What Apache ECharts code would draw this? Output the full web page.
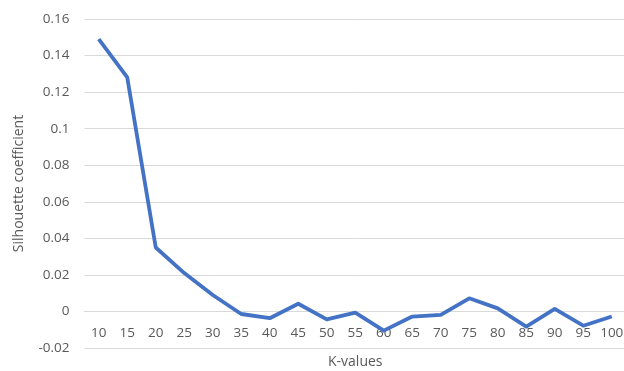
<!DOCTYPE html>
<html>
<head>
<meta charset="utf-8">
<script src="https://cdn.jsdelivr.net/npm/echarts@6/dist/echarts.min.js"></script>
<style>
  html, body { margin: 0; padding: 0; background: #fff; }
  #chart { width: 624px; height: 371px; }
</style>
</head>
<body>
<div id="chart"></div>
<script>
// K values on the x axis
const kValues = ['10', '15', '20', '25', '30', '35', '40', '45', '50', '55',
  '60', '65', '70', '75', '80', '85', '90', '95', '100']
// silhouette coefficient per K
const silhouette = [0.149, 0.128, 0.035, 0.021, 0.009, -0.0014, -0.0037, 0.0042, -0.0043, -0.0006,
  -0.0105, -0.0028, -0.0019, 0.0072, 0.0017, -0.0083, 0.0014, -0.0078, -0.0028]

const textColor = '#595959'
const font = 'Open Sans'

const option = {
  backgroundColor: '#fff',
  animation: false,
  grid: { left: 84.5, right: -2, top: 19, bottom: 23, outerBoundsMode: 'none', containLabel: false },
  xAxis: {
    type: 'category',
    data: kValues,
    boundaryGap: true,
    position: 'bottom',
    offset: -36.5, // axis sits on the zero line, like the original
    name: 'K-values',
    nameLocation: 'middle',
    nameGap: 44,
    nameTextStyle: { color: textColor, fontFamily: font, fontSize: 14 },
    axisLine: { onZero: false, lineStyle: { color: '#d9d9d9', width: 1 } },
    axisTick: { show: false },
    axisLabel: { color: textColor, fontFamily: font, fontSize: 13.5, margin: 15, interval: 0, hideOverlap: false }
  },
  yAxis: {
    type: 'value',
    min: -0.02,
    max: 0.16,
    interval: 0.02,
    name: 'Silhouette coefficient',
    nameLocation: 'middle',
    nameGap: 58,
    nameTextStyle: { color: textColor, fontFamily: font, fontSize: 14 },
    axisLine: { show: false },
    axisTick: { show: false },
    axisLabel: { color: textColor, fontFamily: font, fontSize: 13.5, margin: 15 },
    splitLine: { lineStyle: { color: '#d9d9d9', width: 1 } }
  },
  series: [
    {
      type: 'line',
      data: silhouette,
      symbol: 'none',
      lineStyle: { color: '#4472C4', width: 3.8, join: 'round' }
    }
  ]
}

const myChart = echarts.init(document.getElementById('chart'))
myChart.setOption(option)
</script>
</body>
</html>
